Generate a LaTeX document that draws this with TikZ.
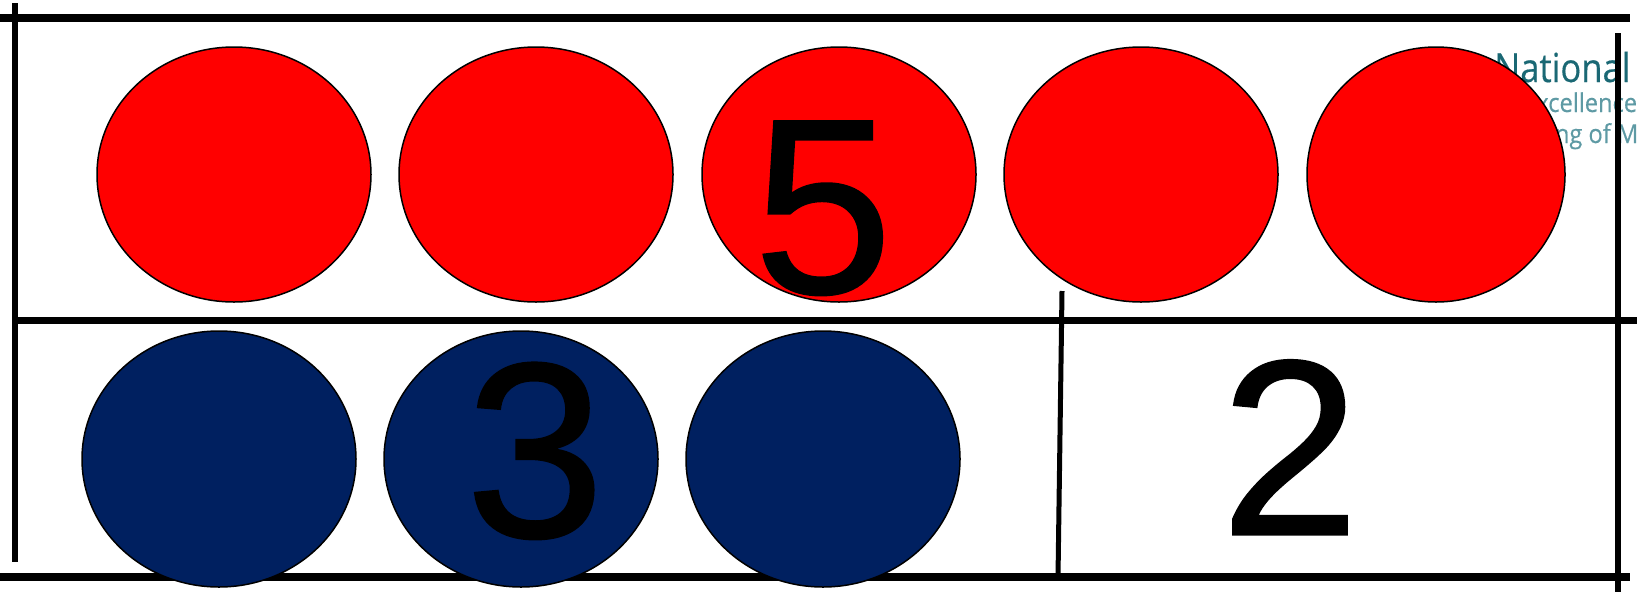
\documentclass[tikz,border=0pt]{standalone}
\usepackage{fontspec}
\setmainfont{Liberation Sans}
\newfontfamily\digitfont[FakeBold=0.8]{Liberation Sans}
\newfontfamily\logofont[FakeBold=0.4]{Open Sans}
\usetikzlibrary{shapes.geometric}
\definecolor{ballred}{RGB}{255,0,0}
\definecolor{ballblue}{RGB}{0,32,96}
\definecolor{logodark}{RGB}{26,104,116}
\definecolor{logolight}{RGB}{94,154,164}
\begin{document}
\begin{tikzpicture}[x=1pt,y=-1pt,
 gridline/.style={black, line width=7pt},
 ball/.style={ellipse, draw=black, line width=1.5pt, minimum width=274pt, minimum height=255pt, inner sep=0pt},
 redball/.style={ball, fill=ballred},
 blueball/.style={ball, fill=ballblue, minimum height=256pt},
 digit/.style={anchor=base, inner sep=0pt, font=\digitfont\fontsize{250}{250}\selectfont},
 logo/.style={anchor=base west, inner sep=0pt, xscale=0.91}]
\useasboundingbox (0,0) rectangle (1637,592);
\clip (0,0) rectangle (1637,592);
% logo text (partly hidden)
\node[logo, xscale=0.95, text=logodark, font=\logofont\fontsize{40}{40}\selectfont] (lg1) at (1494,82) {National};
\node[logo, text=logolight, font=\logofont\fontsize{26}{26}\selectfont] (lg2) at (1523,112) {Excellence};
\node[logo, text=logolight, font=\logofont\fontsize{26}{26}\selectfont] (lg3) at (1485,143) {Teaching of Mathematics};
% grid coordinates
\coordinate (t1) at (0,18);   \coordinate (t2) at (1630,18);
\coordinate (l1) at (15,3);   \coordinate (l2) at (15,562);
\coordinate (m1) at (16,320); \coordinate (m2) at (1637,320);
\coordinate (r1) at (1618,33); \coordinate (r2) at (1618,592);
\coordinate (b1) at (0,577);  \coordinate (b2) at (1630,577);
\coordinate (v1) at (1062,291); \coordinate (v2) at (1058,577);
\draw[gridline, line width=8pt] (t1) -- (t2);
\draw[gridline, line width=6pt] (l1) -- (l2);
\draw[gridline] (m1) -- (m2);
\draw[gridline, line width=6.5pt] (r1) -- (r2);
\draw[gridline, line width=8pt] (b1) -- (b2);
\draw[gridline, line width=5pt] (v1) -- (v2);
% red row
\node[redball] (R1) at (234,174.5) {};
\node[redball] (R2) at (536,174.5) {};
\node[redball] (R3) at (839,174.5) {};
\node[redball] (R4) at (1141,174.5) {};
\node[redball, minimum width=258pt] (R5) at (1436,174.5) {};
% blue row
\node[blueball] (B1) at (219,459) {};
\node[blueball] (B2) at (521,459) {};
\node[blueball] (B3) at (823,459) {};
% digits
\node[digit] (n5) at (823,293) {5};
\node[digit] (n3) at (535,537) {3};
\node[digit] (n2) at (1290,534.5) {2};
\end{tikzpicture}
\end{document}
